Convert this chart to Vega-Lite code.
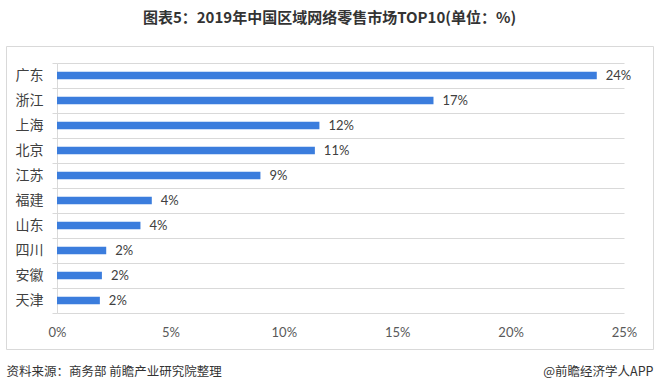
{
  "$schema": "https://vega.github.io/schema/vega-lite/v6.json",
  "width": 647,
  "height": 303,
  "autosize": {"type": "none"},
  "padding": {"left": 6, "top": 46, "right": 7, "bottom": 43},
  "background": "white",
  "title": {
    "text": "图表5：2019年中国区域网络零售市场TOP10(单位：%)",
    "font": "Noto Sans CJK SC",
    "fontSize": 15,
    "fontWeight": "bold",
    "color": "#333333",
    "anchor": "middle",
    "frame": "group",
    "offset": 13
  },
  "config": {
    "view": {"stroke": "#d9d9d9", "strokeWidth": 1}
  },
  "data": {
    "values": [
      {"region": "广东", "value": 0.238},
      {"region": "浙江", "value": 0.166},
      {"region": "上海", "value": 0.1157},
      {"region": "北京", "value": 0.1137},
      {"region": "江苏", "value": 0.0897},
      {"region": "福建", "value": 0.0418},
      {"region": "山东", "value": 0.0368},
      {"region": "四川", "value": 0.0217},
      {"region": "安徽", "value": 0.0198},
      {"region": "天津", "value": 0.0189}
    ]
  },
  "encoding": {
    "y": {
      "field": "region",
      "type": "nominal",
      "sort": null,
      "scale": {"paddingInner": 0, "paddingOuter": 0, "range": [17, 267]},
      "axis": {
        "orient": "left",
        "offset": -51,
        "domainColor": "#d9d9d9",
        "grid": true,
        "gridColor": "#d9d9d9",
        "tickBand": "extent",
        "ticks": true,
        "tickSize": 5,
        "tickColor": "#d9d9d9",
        "labelPadding": 9,
        "labelFont": "Noto Sans CJK SC",
        "labelFontSize": 14,
        "labelColor": "#404040",
        "title": "资料来源：商务部 前瞻产业研究院整理",
        "titleAngle": 0,
        "titleAlign": "left",
        "titleBaseline": "middle",
        "titleX": -51,
        "titleY": 325,
        "titleFont": "Noto Sans CJK SC",
        "titleFontSize": 12.5,
        "titleFontWeight": "normal",
        "titleColor": "#333333"
      }
    },
    "x": {
      "field": "value",
      "type": "quantitative",
      "scale": {"domain": [0, 0.25], "range": [51, 618], "nice": false},
      "axis": {
        "orient": "bottom",
        "offset": -36,
        "format": ".0%",
        "values": [0, 0.05, 0.1, 0.15, 0.2, 0.25],
        "domain": false,
        "ticks": false,
        "grid": false,
        "labelFlush": false,
        "labelOverlap": false,
        "labelPadding": 13,
        "labelFont": "Lato",
        "labelFontSize": 13,
        "labelColor": "#595959",
        "title": "@前瞻经济学人APP",
        "titleAnchor": "end",
        "titleAlign": "right",
        "titleBaseline": "middle",
        "titleX": 647,
        "titleY": 58,
        "titleFont": "Noto Sans CJK SC",
        "titleFontSize": 12.5,
        "titleFontWeight": "normal",
        "titleColor": "#333333"
      }
    }
  },
  "layer": [
    {
      "mark": {"type": "bar", "color": "#3b7ddd", "height": {"band": 0.3}}
    },
    {
      "mark": {"type": "text", "align": "left", "baseline": "middle", "dx": 9, "font": "Lato", "fontSize": 13, "color": "#404040"},
      "encoding": {
        "text": {"field": "value", "type": "quantitative", "format": ".0%"}
      }
    }
  ]
}
